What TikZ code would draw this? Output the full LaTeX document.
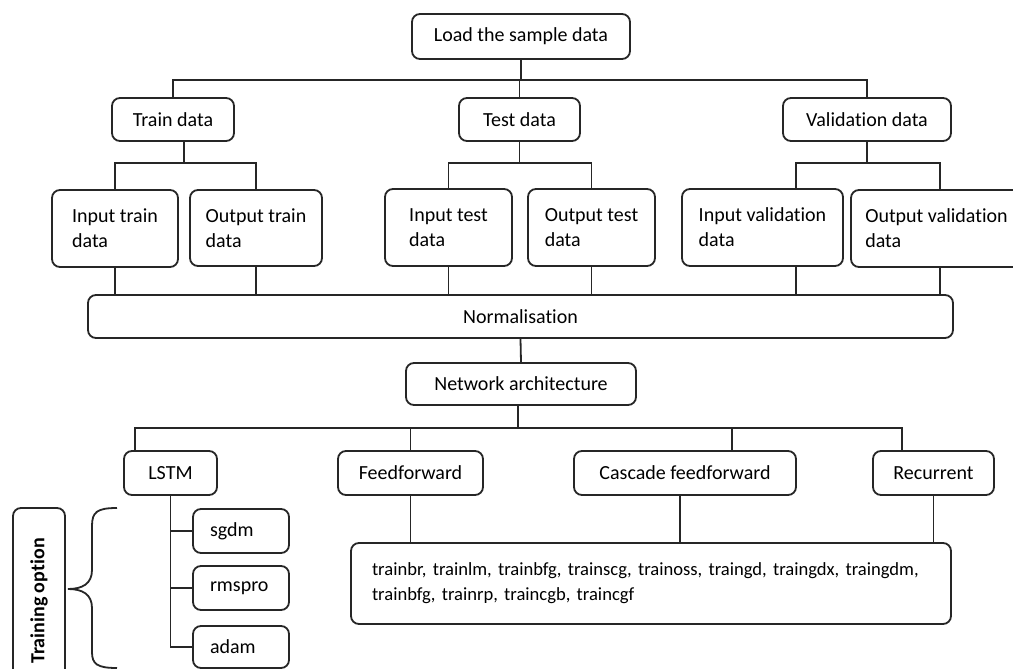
\documentclass[tikz,border=0pt]{standalone}
\usepackage{fontspec}
\setmainfont[Ligatures = NoCommon]{Carlito}
\usepackage{tikz}

\begin{document}
\begin{tikzpicture}[x = 0.5pt, y = -0.5pt, line width = 0.9pt, draw = black!85,
    box/.style = {draw = black!85, rounded corners = 4pt, align = left, inner sep = 0pt,
        font = \fontsize{10}{12.5}\selectfont},
    optbox/.style = {box, minimum width = 48pt, minimum height = 22pt, text width = 31pt, inner xsep = 8.5pt}]
            \useasboundingbox (0,0) rectangle (1013,669);

            \node[box, minimum width = 109pt, minimum height = 22.5pt] (load) at (521,36.5) {Load the sample data};

            \node[box, minimum width = 61pt, minimum height = 21.5pt] (train) at (173,119.5) {Train data};
            \node[box, minimum width = 60.5pt, minimum height = 21.5pt] (test) at (519.5,119.5) {Test data};
            \node[box, minimum width = 84pt, minimum height = 21.5pt] (valid) at (867,119.5) {Validation data};

            \node[box, minimum width = 63pt, minimum height = 38.5pt] (intrain) at (115,228.5) {Input train\\data};
            \node[box, minimum width = 66pt, minimum height = 38pt] (outtrain) at (256,228) {Output train\\data};
            \node[box, minimum width = 63.5pt, minimum height = 38.5pt] (intest) at (448.5,227.5) {Input test\\data};
            \node[box, minimum width = 63.5pt, minimum height = 38.5pt] (outtest) at (591.5,227.5) {Output test\\data};
            \node[box, minimum width = 80.5pt, minimum height = 38.5pt] (inval) at (762.5,227.5) {Input validation\\data};
            \node[box, minimum width = 85.5pt, minimum height = 38.5pt] (outval) at (936.5,228.5) {Output validation\\data};

            \node[box, minimum width = 432.5pt, minimum height = 21.5pt] (norm) at (520.5,316.5) {Normalisation};
            \node[box, minimum width = 115pt, minimum height = 21pt] (net) at (521,384) {Network architecture};

            \node[box, minimum width = 46.5pt, minimum height = 22pt] (lstm) at (170.5,473) {LSTM};
            \node[box, minimum width = 72.5pt, minimum height = 22pt] (ff) at (410.5,473) {Feedforward};
            \node[box, minimum width = 111pt, minimum height = 22pt] (cff) at (685,473) {Cascade feedforward};
            \node[box, minimum width = 60.5pt, minimum height = 22pt] (rec) at (933.5,473) {Recurrent};

            \node[box, minimum height = 40.5pt, text width = 279pt, inner xsep = 10.5pt,
            font = \fontsize{9.3}{12.5}\selectfont] (list) at (651,583.5)
            {trainbr, trainlm, trainbfg, trainscg, trainoss, traingd, traingdx, traingdm,\\trainbfg, trainrp, traincgb, traincgf};

            \node[optbox] (sgdm) at (241,531) {sgdm};
            \node[optbox] (rmspro) at (241,588) {rmspro};
            \node[optbox, minimum height = 21pt] (adam) at (241,647) {adam};

            \node[box, rotate = 90, minimum width = 93pt, minimum height = 26pt,
            font = \bfseries\fontsize{10}{12}\selectfont] (option) at (39,601) {Training option};

            \draw (load.south) -- ++(0,20) coordinate (bus1);
            \draw (train.north) |- (bus1) -| (valid.north);
            \draw (test.north) -- (test.north |- bus1);

            \draw ([xshift = 5.5pt]train.south) -- ++(0,21) coordinate (bus2);
            \draw (intrain.north) |- (bus2) -| (outtrain.north);
            \draw (test.south) -- ++(0,21) coordinate (bus3);
            \draw (intest.north) |- (bus3) -| (outtest.north);
            \draw (valid.south) -- ++(0,21) coordinate (bus4);
            \draw ([xshift = 16.75pt]inval.north) |- (bus4) -| ([xshift = 1.75pt]outval.north);

            \draw (intrain.south) -- (intrain.south |- norm.north);
            \draw (outtrain.south) -- (outtrain.south |- norm.north);
            \draw (intest.south) -- (intest.south |- norm.north);
            \draw (outtest.south) -- (outtest.south |- norm.north);
            \draw ([xshift = 16.75pt]inval.south) -- ([xshift = 16.75pt]inval.south |- norm.north);
            \draw ([xshift = 1.75pt]outval.south) -- ([xshift = 1.75pt]outval.south |- norm.north);

            \draw (norm.south) -- (net.north);

            \draw ([xshift = -1.5pt]net.south) -- ++(0,22) coordinate (bus5);
            \draw ([xshift = -17.75pt]lstm.north) |- (bus5) -| ([xshift = -15.75pt]rec.north);
            \draw (ff.north) -- (ff.north |- bus5);
            \draw ([xshift = 23.5pt]cff.north) -- ([xshift = 23.5pt]cff.north |- bus5);

            \draw (ff.south) -- (ff.south |- list.north);
            \draw ([xshift = -2.5pt]cff.south) -- ([xshift = -2.5pt]cff.south |- list.north);
            \draw (rec.south) -- (rec.south |- list.north);

            \draw (lstm.south) |- (adam.west);
            \draw (sgdm.west) -- (sgdm.west -| lstm.south);
            \draw (rmspro.west) -- (rmspro.west -| lstm.south);

            \draw (117,508) .. controls (97,508) and (92,512) .. (92,526) -- (92,570)
            .. controls (92,584) and (82,589) .. (68,589)
            .. controls (82,589) and (92,594) .. (92,608) -- (92,652)
            .. controls (92,664) and (97,668) .. (117,668);
    \end{tikzpicture}
\end{document}
